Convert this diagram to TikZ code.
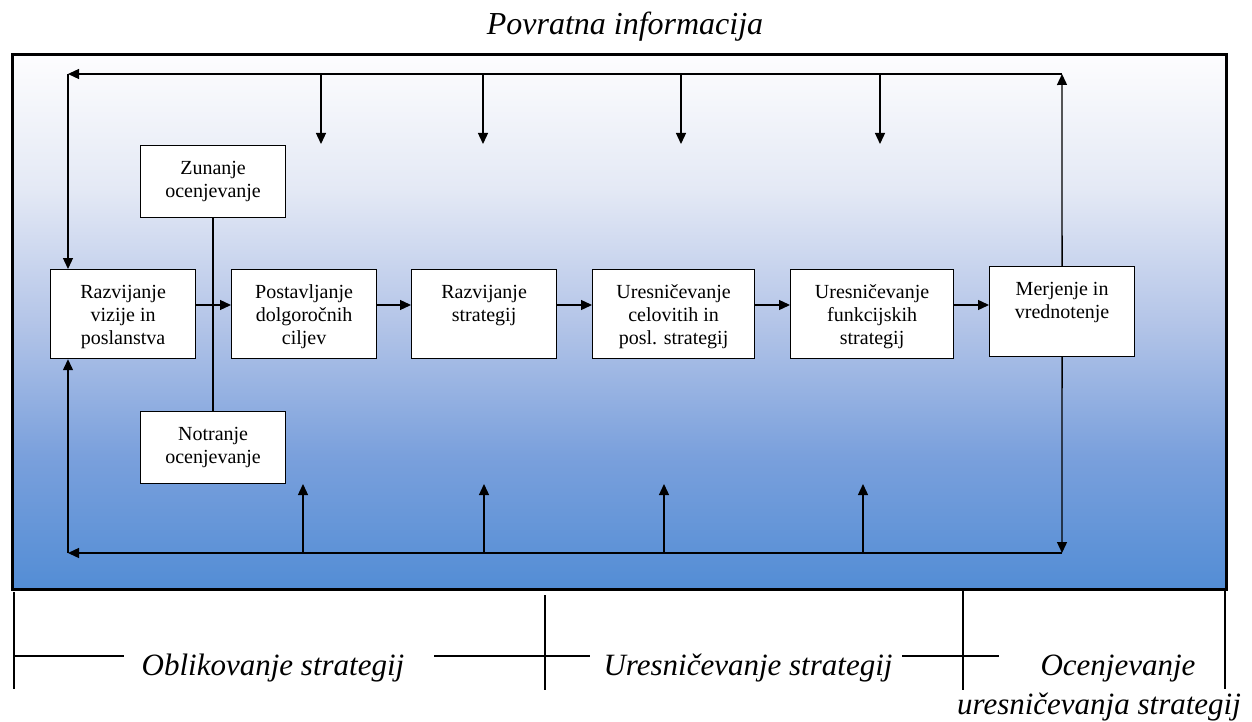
\documentclass[tikz,border=0pt]{standalone}
\usepackage{fontspec}
\setmainfont{Liberation Serif}
\usetikzlibrary{arrows.meta}

% panel background: white at the top, blue at the bottom
\definecolor{gradA}{RGB}{83,141,213}
\definecolor{gradB}{RGB}{122,160,220}
\definecolor{gradC}{RGB}{180,197,232}
\definecolor{gradD}{RGB}{228,233,245}
\definecolor{gradE}{RGB}{253,253,254}
\pgfdeclareverticalshading{panelgrad}{100bp}{%
  color(0bp)=(gradA); color(25bp)=(gradA); color(37.5bp)=(gradB);
  color(50bp)=(gradC); color(62.5bp)=(gradD); color(75bp)=(gradE);
  color(100bp)=(gradE)}

% top-aligned, centred text block of a box
\newcommand\cellbody[3]{\parbox[c][#2pt][t]{#1pt}{\centering\rule{0pt}{29pt}#3}}

\tikzset{
  stage/.style={draw, fill=white, line width=1.2pt, inner sep=0pt,
    anchor=north west, font=\fontsize{20}{23}\selectfont},
  flow/.style={line width=1.3pt, -{Triangle[length=11pt,width=10pt]}},
  plain/.style={line width=1.3pt},
  phase/.style={font=\fontsize{31}{35}\selectfont\itshape, anchor=base, inner sep=0pt},
}

\begin{document}
\begin{tikzpicture}[x=1pt,y=-1pt]
\useasboundingbox (0,0) rectangle (1252,722);

% framed panel
\shade[shading=panelgrad] (12,55) rectangle (1226,589);
\draw[line width=3pt] (12,55) rectangle (1226,589);

% title
\node[font=\fontsize{32}{36}\selectfont\itshape, anchor=base, inner sep=0pt] (title) at (625,35) {Povratna informacija};

% main stages
\node[stage] (vis)  at (50,269)  {\cellbody{145}{89}{Razvijanje\\vizije in\\poslanstva}};
\node[stage] (cilj) at (231,269) {\cellbody{145}{89}{Postavljanje\\dolgoročnih\\ciljev}};
\node[stage] (str)  at (411,269) {\cellbody{145}{89}{Razvijanje\\strategij}};
\node[stage] (cel)  at (592,269) {\cellbody{162}{89}{Uresničevanje\\celovitih in\\posl. strategij}};
\node[stage] (fun)  at (790,269) {\cellbody{163}{89}{Uresničevanje\\funkcijskih\\strategij}};
\node[stage] (mer)  at (989,266) {\cellbody{145}{90}{Merjenje in\\vrednotenje}};

% assessments
\node[stage] (zun)  at (140,145) {\cellbody{145}{72}{Zunanje\\ocenjevanje}};
\node[stage] (notr) at (140,411) {\cellbody{145}{72}{Notranje\\ocenjevanje}};

% feedback loop corners
\coordinate (tl) at (68,74);
\coordinate (tr) at (1062,74);
\coordinate (bl) at (68,553);
\coordinate (br) at (1062,553);
\coordinate (row) at (0,305);

% link between the assessments
\draw[plain] (zun.south) -- (notr.north);

% forward flow
\draw[flow] (vis.east |- row) -- (cilj.west |- row);
\draw[flow] (cilj.east |- row) -- (str.west |- row);
\draw[flow] (str.east |- row) -- (cel.west |- row);
\draw[flow] (cel.east |- row) -- (fun.west |- row);
\draw[flow] (fun.east |- row) -- (mer.west |- row);

% upper feedback path
\draw[flow] (mer.north) -- (tr);
\draw[flow] (tr) -- (tl);
\draw[flow] (tl) -- (tl |- vis.north);
\foreach \x/\n in {321/a,483/b,681/c,880/d}{
  \coordinate (dn\n) at (\x,74);
  \coordinate (dt\n) at (\x,144);
  \draw[flow] (dn\n) -- (dt\n);
}

% lower feedback path
\draw[flow] (mer.south) -- (br);
\draw[flow] (br) -- (bl);
\draw[flow] (bl) -- (bl |- vis.south);
\foreach \x/\n in {303/a,484/b,664/c,863/d}{
  \coordinate (up\n) at (\x,553);
  \coordinate (ut\n) at (\x,484);
  \draw[flow] (up\n) -- (ut\n);
}

% phase brackets below the panel
\draw[plain] (14,592) -- (14,689);
\draw[plain] (545,595) -- (545,690);
\draw[plain] (963,591) -- (963,690);
\draw[plain] (1225,591) -- (1225,689);
\draw[plain] (14,656) -- (124,656);
\draw[plain] (434,656) -- (590,656);
\draw[plain] (902,656) -- (999,656);

\node[phase] (p1) at (273,675) {Oblikovanje strategij};
\node[phase] (p2) at (748,675) {Uresničevanje strategij};
\node[phase] (p3) at (1118,675) {Ocenjevanje};
\node[phase] (p4) at (1099,714) {uresničevanja strategij};
\end{tikzpicture}
\end{document}
